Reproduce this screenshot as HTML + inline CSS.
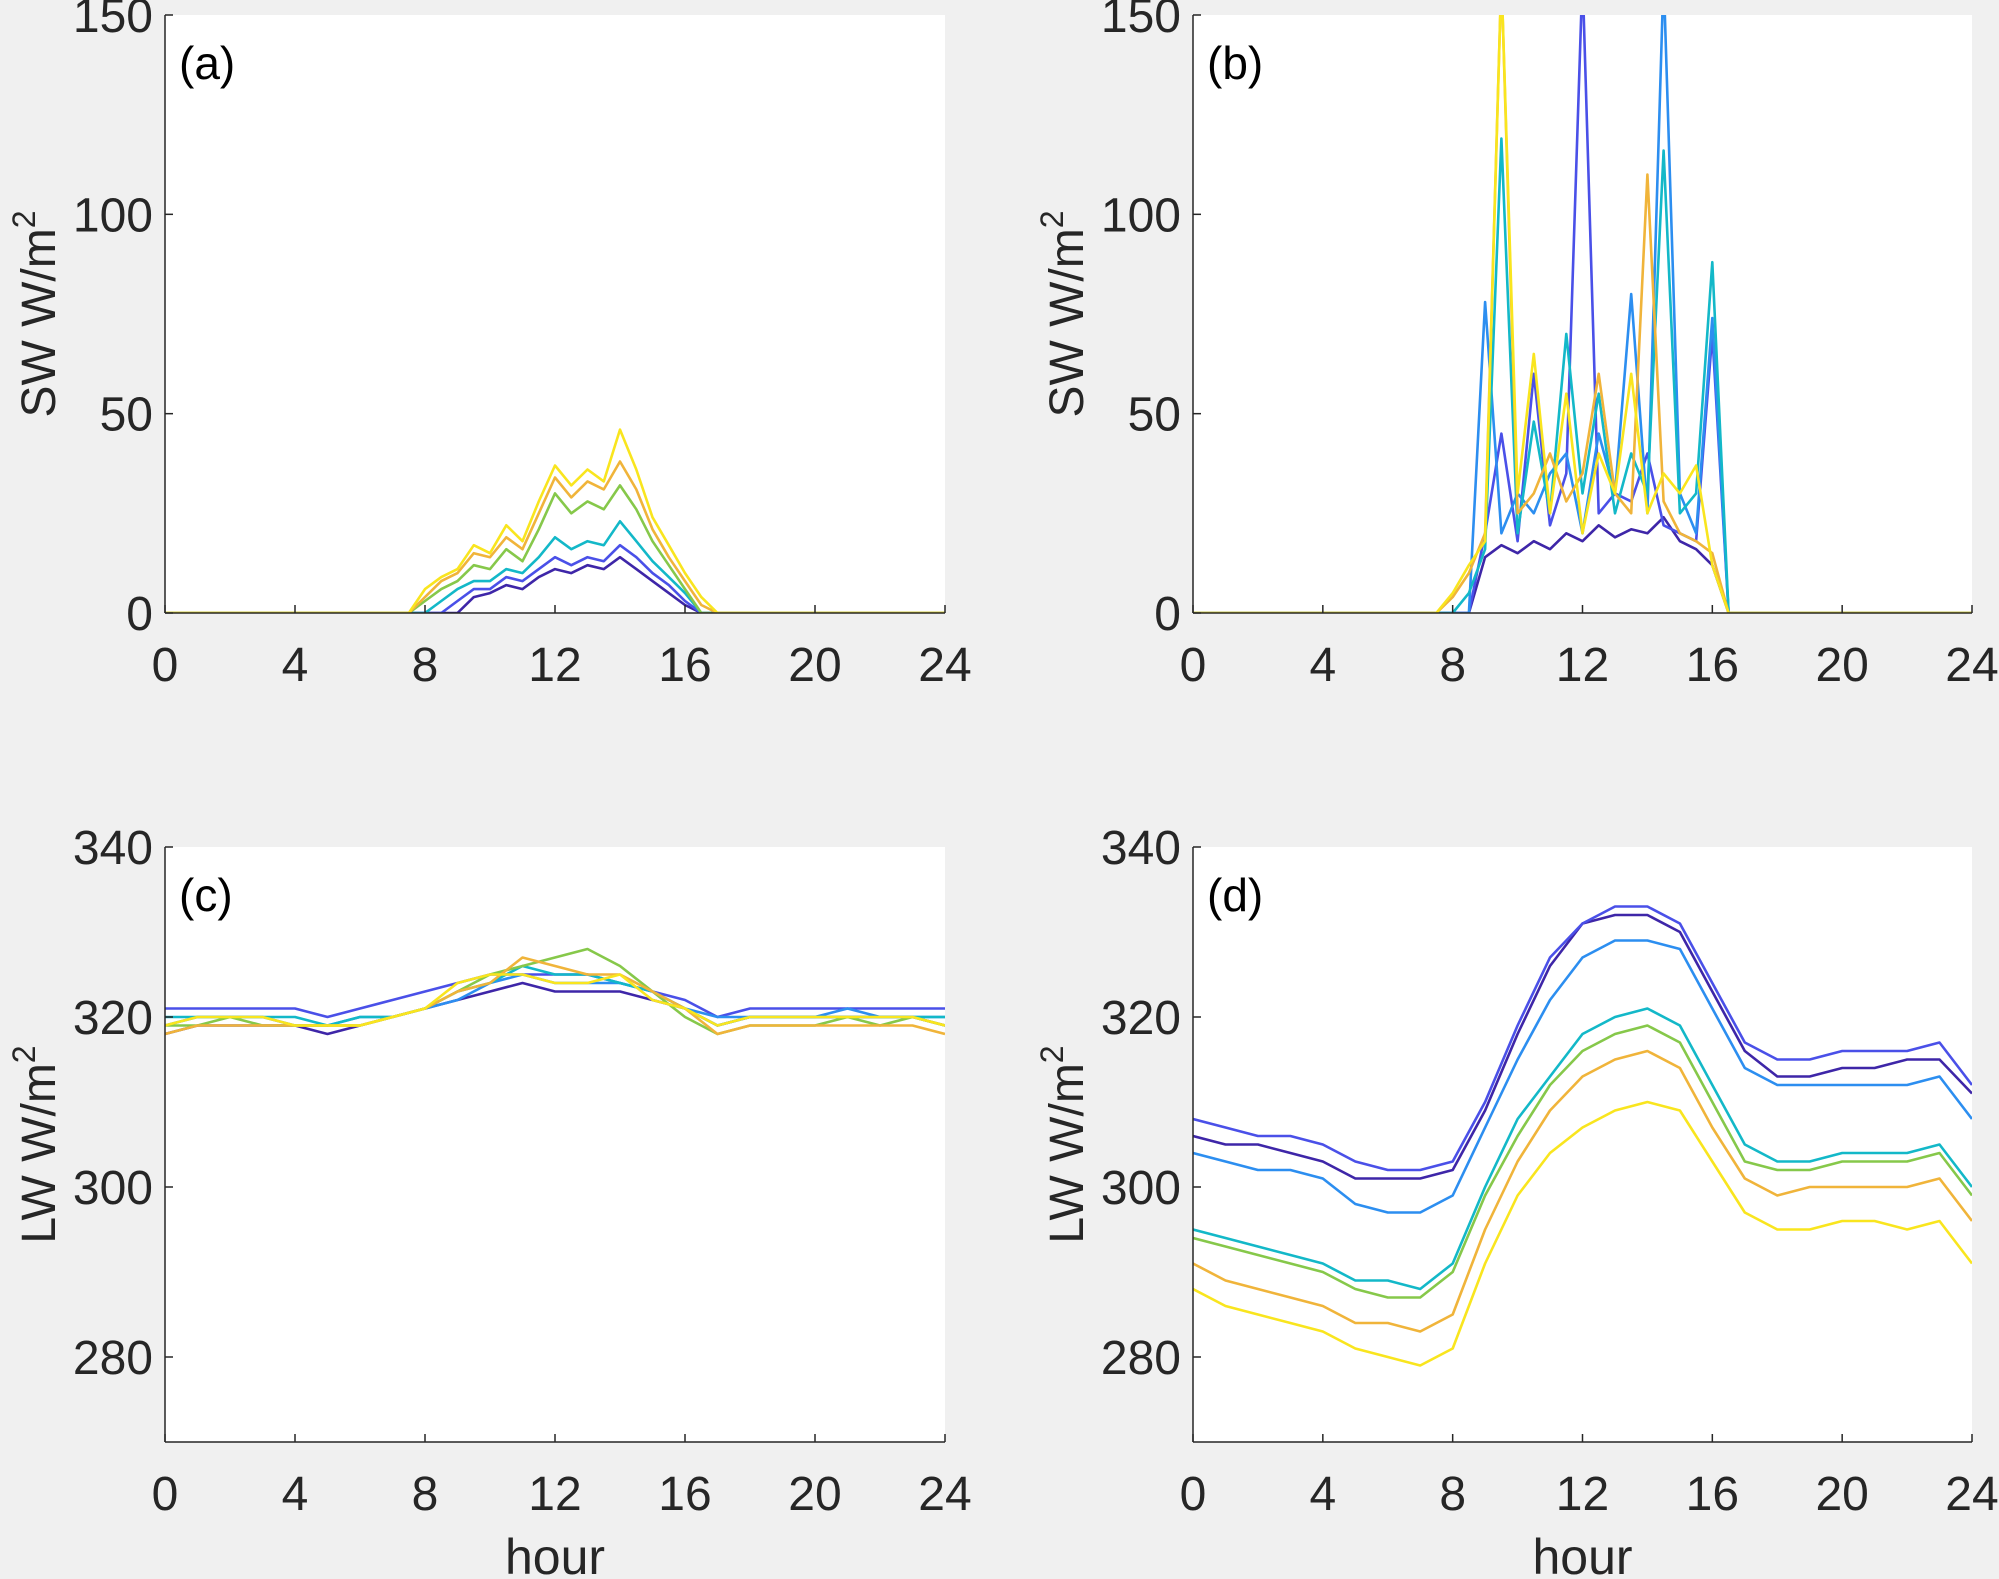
<!DOCTYPE html>
<html><head><meta charset="utf-8"><style>
html,body{margin:0;padding:0;background:#f0f0f0;}
svg{display:block;font-family:"Liberation Sans",Arial,sans-serif;}
</style></head><body>
<svg id="fig" width="1999" height="1579" viewBox="0 0 1999 1579"></svg>
<script>
// ---- data ----
const colors = ["#3e26a8","#4a50e8","#2c8ef0","#13b8c8","#86c84a","#f0b43a","#f9e51e"];
const hoursSW = [0,7.5,8,8.5,9,9.5,10,10.5,11,11.5,12,12.5,13,13.5,14,14.5,15,15.5,16,16.5,17,24];
const swA = [
 [0,0,0,0,0,4,5,7,6,9,11,10,12,11,14,11,8,5,2,0,0,0],
 [0,0,0,0,3,6,6,9,8,11,14,12,14,13,17,14,10,7,3,0,0,0],
 [0,0,0,3,6,8,8,11,10,14,19,16,18,17,23,18,13,9,5,0,0,0],
 [0,0,3,6,8,12,11,16,13,21,30,25,28,26,32,26,18,12,6,0,0,0],
 [0,0,4,8,10,15,14,19,16,25,34,29,33,31,38,31,21,14,8,2,0,0],
 [0,0,6,9,11,17,15,22,18,28,37,32,36,33,46,36,24,17,10,4,0,0]
];
const swB = [
 [0,0,0,0,14,17,15,18,16,20,18,22,19,21,20,24,18,16,12,0,0,0],
 [0,0,0,0,20,45,18,60,22,35,160,25,30,28,40,22,20,18,70,0,0,0],
 [0,0,0,0,78,20,30,25,35,40,20,45,30,80,25,160,30,20,74,0,0,0],
 [0,0,0,5,16,119,20,48,25,70,30,55,25,40,30,116,25,30,88,0,0,0],
 [0,0,4,10,20,160,25,30,40,28,35,60,30,25,110,28,20,18,15,0,0,0],
 [0,0,5,12,18,160,30,65,25,55,20,40,30,60,25,35,30,37,12,0,0,0]
];
const hoursLW = [0,1,2,3,4,5,6,7,8,9,10,11,12,13,14,15,16,17,18,19,20,21,22,23,24];
const lwC = [
 [318,319,319,319,319,318,319,320,321,322,323,324,323,323,323,322,321,319,320,320,320,320,320,320,319],
 [321,321,321,321,321,320,321,322,323,324,325,325,325,325,324,323,322,320,321,321,321,321,321,321,321],
 [319,320,320,320,319,319,320,320,321,322,324,325,324,324,324,323,321,320,320,320,320,321,320,320,320],
 [320,320,320,320,320,319,320,320,321,323,324,326,325,325,324,323,321,319,320,320,320,320,320,320,320],
 [319,319,320,319,319,319,319,320,321,323,325,326,327,328,326,323,320,318,319,319,319,320,319,320,319],
 [318,319,319,319,319,319,319,320,321,323,324,327,326,325,325,323,321,318,319,319,319,319,319,319,318],
 [319,320,320,320,319,319,319,320,321,324,325,325,324,324,325,322,321,319,320,320,320,320,320,320,319]
];
const lwD = [
 [306,305,305,304,303,301,301,301,302,309,318,326,331,332,332,330,323,316,313,313,314,314,315,315,311],
 [308,307,306,306,305,303,302,302,303,310,319,327,331,333,333,331,324,317,315,315,316,316,316,317,312],
 [304,303,302,302,301,298,297,297,299,307,315,322,327,329,329,328,321,314,312,312,312,312,312,313,308],
 [295,294,293,292,291,289,289,288,291,300,308,313,318,320,321,319,312,305,303,303,304,304,304,305,300],
 [294,293,292,291,290,288,287,287,290,299,306,312,316,318,319,317,310,303,302,302,303,303,303,304,299],
 [291,289,288,287,286,284,284,283,285,295,303,309,313,315,316,314,307,301,299,300,300,300,300,301,296],
 [288,286,285,284,283,281,280,279,281,291,299,304,307,309,310,309,303,297,295,295,296,296,295,296,291]
];
const xTicks = [0,4,8,12,16,20,24];
const swTicks = [0,50,100,150];
const lwTicks = [280,300,320,340];

const NS="http://www.w3.org/2000/svg";
const svg=document.getElementById('fig');
function mk(tag,attrs,parent){const e=document.createElementNS(NS,tag);for(const k in attrs)e.setAttribute(k,attrs[k]);(parent||svg).appendChild(e);return e;}

function panel(id,x0,x1,y0,y1,ymin,ymax,yTicks,ylab,label,hours,series,cols,showX){
  const sx=v=>x0+(v-0)/(24-0)*(x1-x0);
  const sy=v=>y1-(v-ymin)/(ymax-ymin)*(y1-y0);
  const g=mk('g',{});
  
  
  const bg=mk('rect',{x:x0,y:y0,width:x1-x0,height:y1-y0,fill:'#fff'},g);
  
  
  const cp=mk('clipPath',{id:'cp'+id},g);
  mk('rect',{x:x0,y:y0,width:x1-x0,height:y1-y0},cp);
  const lines=mk('g',{'clip-path':'url(#cp'+id+')'},g);
  series.forEach((s,i)=>{
    const d=s.map((v,j)=>(j?'L':'M')+sx(hours[j]).toFixed(1)+','+sy(v).toFixed(1)).join('');
    const p=mk('path',{d:d,fill:'none',stroke:cols[i],'stroke-width':2.6,'stroke-linejoin':'round'},lines);
    
    
  });
  mk('line',{x1:x0,y1:y0,x2:x0,y2:y1,stroke:'#262626','stroke-width':1.5},g);
  mk('line',{x1:x0,y1:y1,x2:x1,y2:y1,stroke:'#262626','stroke-width':1.5},g);
  xTicks.forEach(t=>{
    mk('line',{x1:sx(t),y1:y1,x2:sx(t),y2:y1-8,stroke:'#262626','stroke-width':1.5},g);
    const tx=mk('text',{x:sx(t),y:y1+68,'font-size':48,fill:'#262626','text-anchor':'middle'},g);
    tx.textContent=t;
    
    
  });
  yTicks.forEach(t=>{
    mk('line',{x1:x0,y1:sy(t),x2:x0+8,y2:sy(t),stroke:'#262626','stroke-width':1.5},g);
    const tx=mk('text',{x:x0-12,y:sy(t)+17,'font-size':48,fill:'#262626','text-anchor':'end'},g);
    tx.textContent=t;
    
    
  });
  const yl=mk('text',{transform:`translate(${x0-110},${(y0+y1)/2}) rotate(-90)`,'font-size':48,fill:'#262626','text-anchor':'middle'},g);
  yl.innerHTML=ylab+' W/m<tspan dy="-20" font-size="32">2</tspan>';
  
  
  const lb=mk('text',{x:x0+14,y:y0+64,'font-size':46,fill:'#000'},g);
  lb.textContent=label;
  
  
  if(showX){
    const xl=mk('text',{x:(x0+x1)/2,y:y1+132,'font-size':50,fill:'#262626','text-anchor':'middle'},g);
    xl.textContent='hour';
    
    
  }
}
const c6=[colors[0],colors[1],colors[3],colors[4],colors[5],colors[6]];
const c6b=[colors[0],colors[1],colors[2],colors[3],colors[5],colors[6]];
panel('a',165,945,15,613,0,150,swTicks,'SW','(a)',hoursSW,swA,c6,false);
panel('b',1193,1972,15,613,0,150,swTicks,'SW','(b)',hoursSW,swB,c6b,false);
panel('c',165,945,847,1442,270,340,lwTicks,'LW','(c)',hoursLW,lwC,colors,true);
panel('d',1193,1972,847,1442,270,340,lwTicks,'LW','(d)',hoursLW,lwD,colors,true);
</script>
</body></html>
